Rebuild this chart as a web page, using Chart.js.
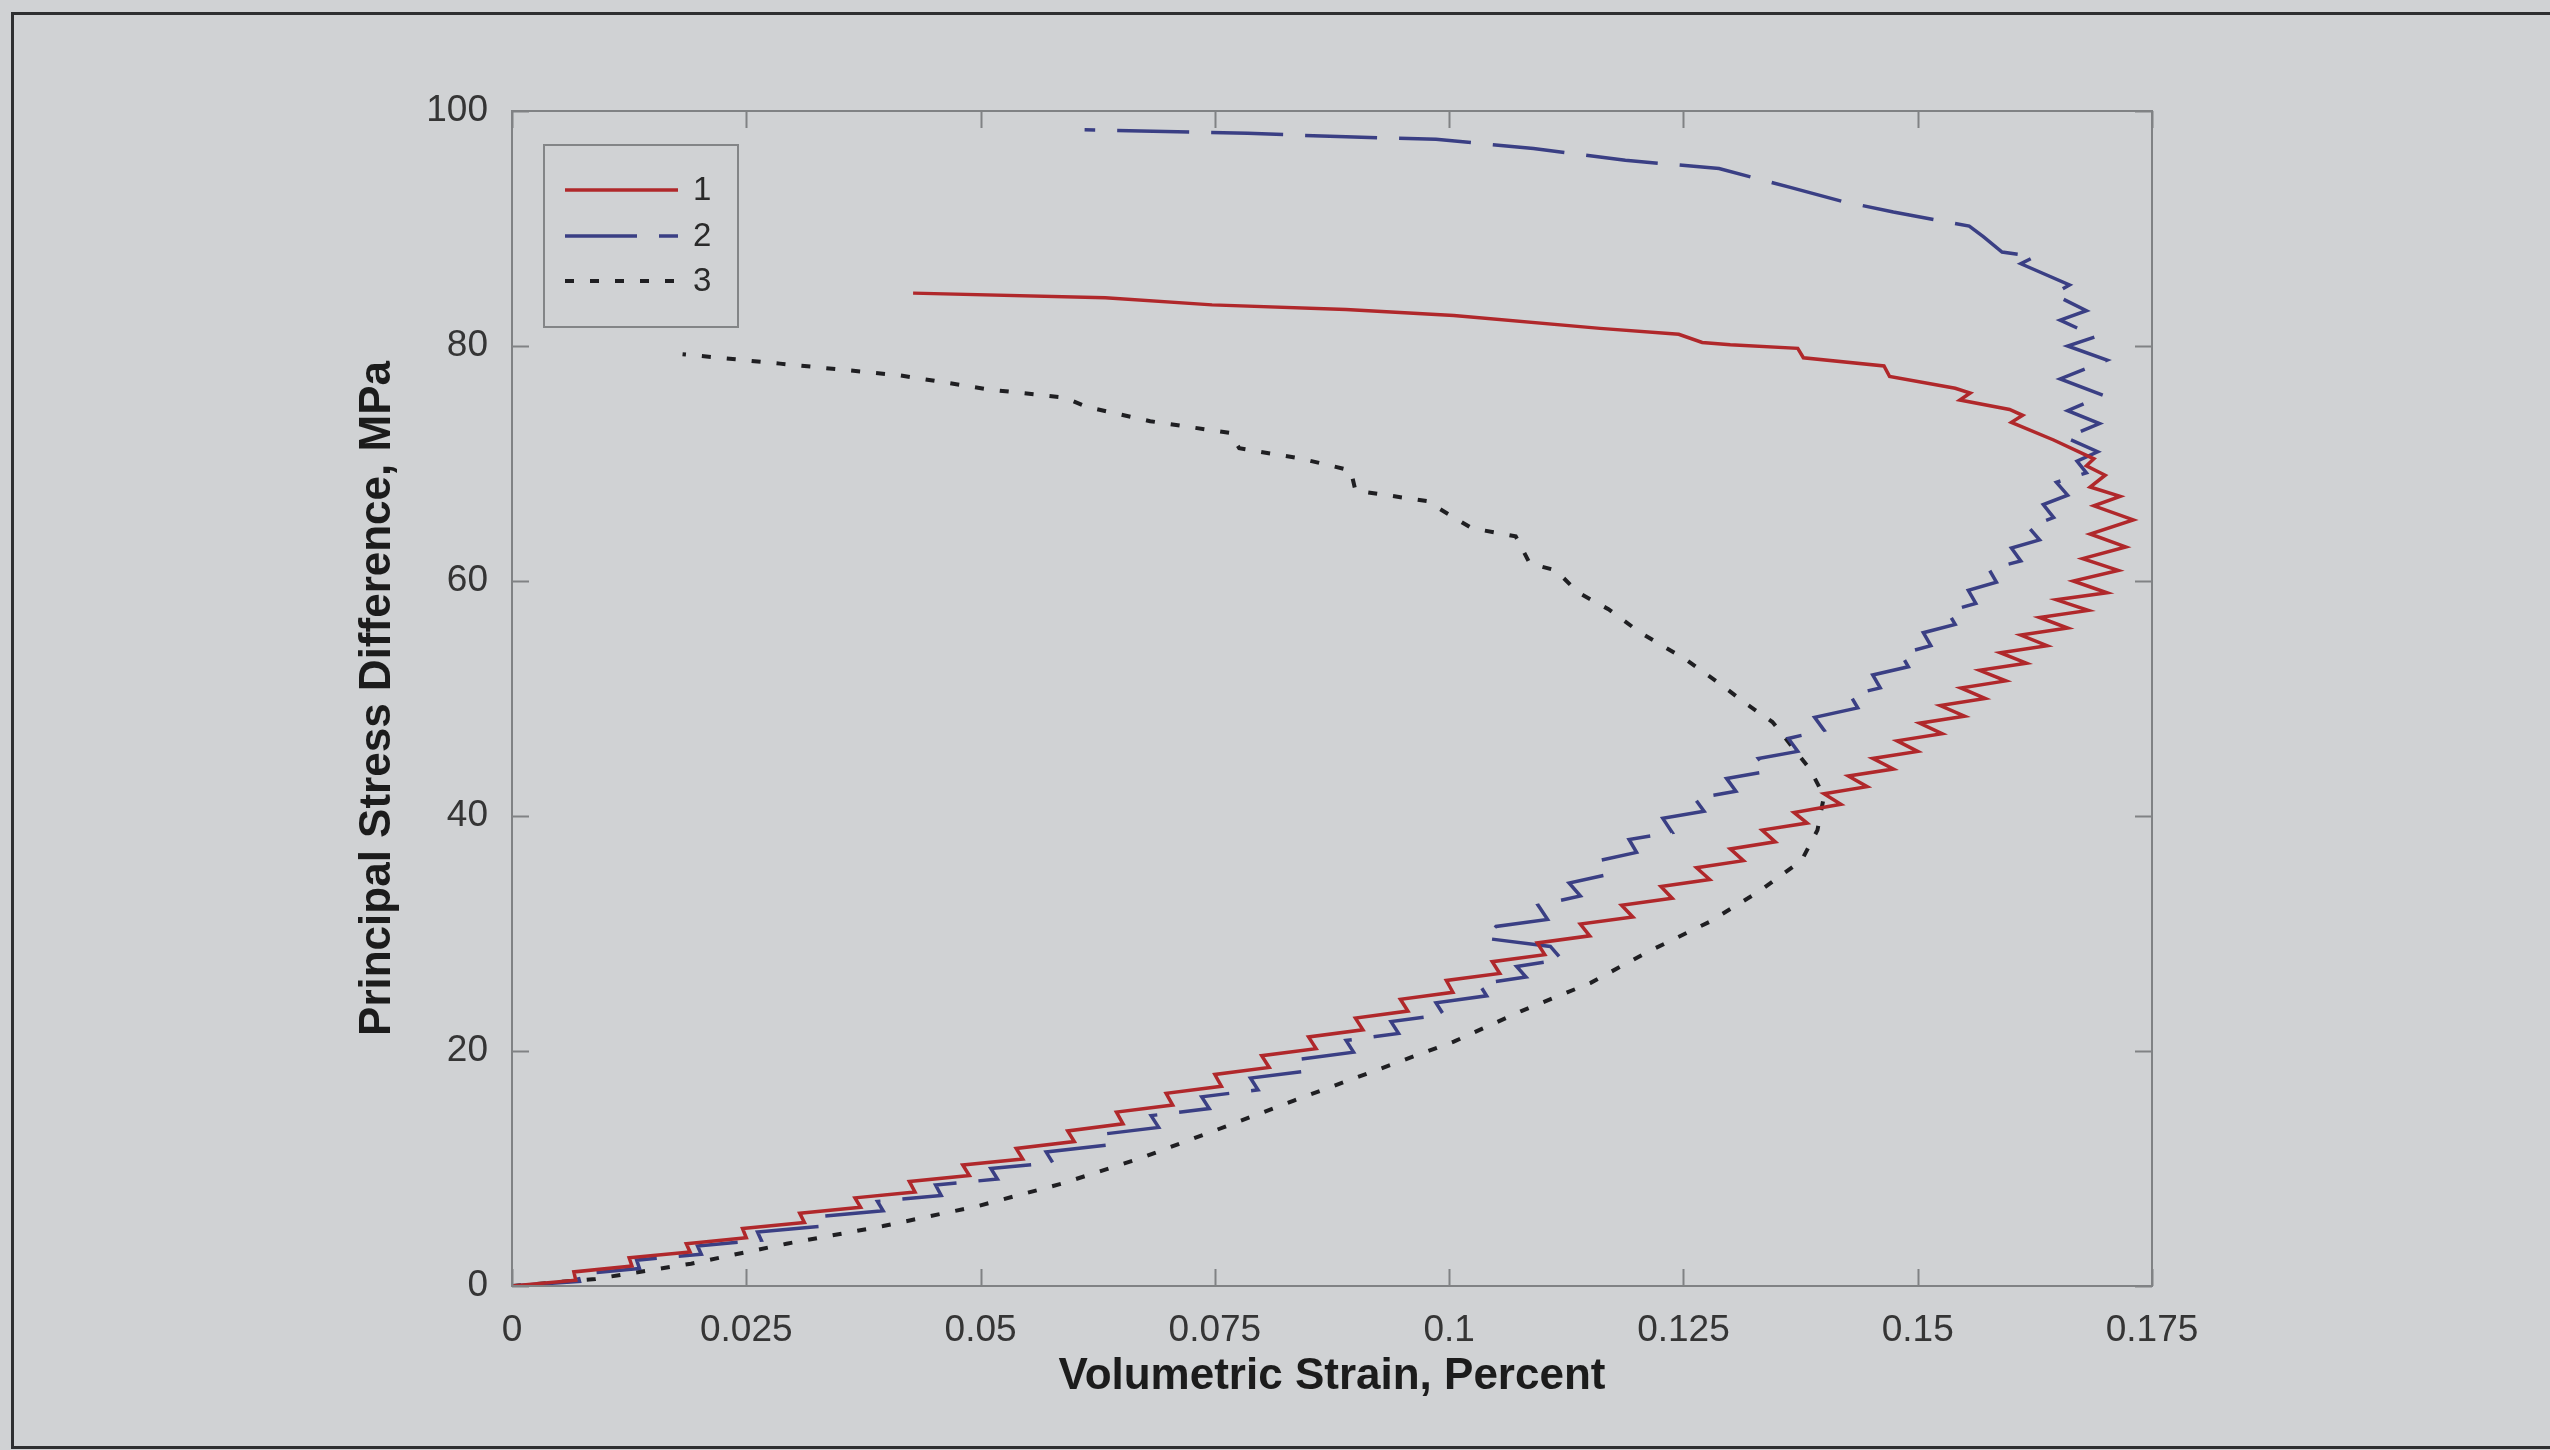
<!DOCTYPE html>
<html>
<head>
<meta charset="utf-8">
<title>Volumetric strain vs principal stress difference</title>
<script src="https://cdn.jsdelivr.net/npm/chart.js@4.4.1/dist/chart.umd.min.js"></script>
<style>
  html, body { margin: 0; padding: 0; background: #d0d2d4; }
  canvas { display: block; }
</style>
</head>
<body>
<canvas id="chart" width="2550" height="1450"></canvas>
<script>
// ---- data -------------------------------------------------------------
const seriesNames = ['1', '2', '3'];

// Test 1 (solid red)
const strain1 = [
  0, 0.0068, 0.0066, 0.0128, 0.0125, 0.0190, 0.0186, 0.0250, 0.0246, 0.0312,
  0.0307, 0.0372, 0.0366, 0.0430, 0.0424, 0.0488, 0.0481, 0.0545, 0.0538, 0.0600,
  0.0593, 0.0652, 0.0645, 0.0705, 0.0698, 0.0757, 0.0750, 0.0808, 0.0800, 0.0858,
  0.0850, 0.0908, 0.0900, 0.0956, 0.0948, 0.1004, 0.0997, 0.1054, 0.1046, 0.1102,
  0.1094, 0.1150, 0.1140, 0.1196, 0.1184, 0.1238, 0.1226, 0.1278, 0.1264, 0.1314,
  0.1300, 0.1348, 0.1334, 0.1382, 0.1368, 0.1418, 0.1400, 0.1446, 0.1426, 0.1474,
  0.1452, 0.1500, 0.1478, 0.1526, 0.1502, 0.1550, 0.1524, 0.1572, 0.1546, 0.1594,
  0.1566, 0.1616, 0.1588, 0.1638, 0.1610, 0.1660, 0.1630, 0.1682, 0.1648, 0.1702,
  0.1666, 0.1714, 0.1676, 0.1722, 0.1684, 0.1730, 0.1688, 0.1716, 0.1684, 0.1700,
  0.1680, 0.1688, 0.1645, 0.1600, 0.1612, 0.1598, 0.1545, 0.1556, 0.1540, 0.1470,
  0.1464, 0.1378, 0.1372, 0.1300, 0.1270, 0.1245, 0.1161, 0.1005, 0.0890, 0.0747,
  0.0633, 0.0428
];
const stress1 = [
  0, 0.5, 1.2, 1.7, 2.4, 2.9, 3.6, 4.1, 4.9, 5.4,
  6.2, 6.7, 7.5, 8.0, 8.9, 9.4, 10.3, 10.8, 11.7, 12.3,
  13.2, 13.8, 14.8, 15.4, 16.4, 17.0, 18.0, 18.6, 19.6, 20.2,
  21.2, 21.8, 22.8, 23.4, 24.4, 25.0, 26.0, 26.6, 27.6, 28.2,
  29.2, 29.8, 30.8, 31.4, 32.4, 33.0, 34.0, 34.6, 35.6, 36.2,
  37.2, 37.8, 38.8, 39.4, 40.3, 41.0, 41.9, 42.5, 43.4, 44.0,
  44.9, 45.5, 46.4, 47.0, 47.9, 48.5, 49.4, 50.0, 50.9, 51.5,
  52.4, 53.0, 53.9, 54.5, 55.4, 56.0, 56.9, 57.5, 58.4, 59.0,
  60.0, 60.9, 61.9, 62.9, 64.0, 65.2, 66.4, 67.2, 68.0, 69.0,
  69.8, 70.4, 72.0, 73.5, 74.1, 74.6, 75.4, 76.0, 76.4, 77.4,
  78.3, 79.0, 79.8, 80.1, 80.3, 81.0, 81.5, 82.6, 83.1, 83.5,
  84.1, 84.5
];

// Test 2 (dashed blue)
const strain2 = [
  0, 0.0072, 0.0070, 0.0136, 0.0133, 0.0202, 0.0198, 0.0266, 0.0262, 0.0332,
  0.0327, 0.0396, 0.0390, 0.0458, 0.0452, 0.0518, 0.0511, 0.0577, 0.0570, 0.0636,
  0.0628, 0.0690, 0.0682, 0.0744, 0.0736, 0.0796, 0.0788, 0.0848, 0.0840, 0.0898,
  0.0890, 0.0946, 0.0938, 0.0994, 0.0986, 0.1040, 0.1032, 0.1082, 0.1072, 0.1120,
  0.1108, 0.1038, 0.1050, 0.1105, 0.1095, 0.1140, 0.1128, 0.1168, 0.1160, 0.1200,
  0.1192, 0.1238, 0.1228, 0.1272, 0.1262, 0.1306, 0.1296, 0.1340, 0.1330, 0.1372,
  0.1362, 0.1400, 0.1390, 0.1436, 0.1428, 0.1460, 0.1452, 0.1490, 0.1482, 0.1514,
  0.1506, 0.1540, 0.1532, 0.1562, 0.1554, 0.1584, 0.1576, 0.1610, 0.1600, 0.1630,
  0.1618, 0.1645, 0.1634, 0.1660, 0.1648, 0.1680, 0.1670, 0.1692, 0.1658, 0.1694,
  0.1660, 0.1698, 0.1652, 0.1702, 0.1660, 0.1690, 0.1652, 0.1680, 0.1645, 0.1662,
  0.1610, 0.1625, 0.1590, 0.1570, 0.1555, 0.1474, 0.1420, 0.1364, 0.1288, 0.1188,
  0.1090, 0.0986, 0.0890, 0.0785, 0.0611
];
const stress2 = [
  0, 0.4, 1.0, 1.5, 2.2, 2.7, 3.4, 3.9, 4.6, 5.1,
  5.9, 6.4, 7.2, 7.7, 8.6, 9.1, 10.0, 10.5, 11.4, 12.0,
  12.9, 13.5, 14.5, 15.1, 16.1, 16.7, 17.7, 18.3, 19.3, 19.9,
  20.9, 21.5, 22.5, 23.1, 24.1, 24.7, 25.7, 26.3, 27.2, 27.8,
  28.9, 29.6, 30.6, 31.2, 32.4, 33.2, 34.3, 35.0, 36.2, 36.9,
  38.0, 38.6, 39.8, 40.4, 41.5, 42.1, 43.2, 43.8, 44.9, 45.5,
  46.6, 47.3, 48.4, 49.2, 50.3, 50.9, 52.0, 52.7, 53.8, 54.5,
  55.6, 56.3, 57.4, 58.1, 59.2, 59.9, 61.0, 61.7, 62.8, 63.5,
  64.6, 65.4, 66.5, 67.3, 68.4, 69.2, 70.2, 71.0, 72.2, 73.4,
  74.5, 75.8, 77.2, 78.8, 80.0, 80.8, 82.2, 83.0, 84.4, 85.2,
  87.0, 87.6, 88.0, 89.3, 90.2, 91.4, 92.3, 93.5, 95.1, 95.8,
  96.8, 97.6, 97.8, 98.1, 98.4
];

// Test 3 (dotted black)
const strain3 = [
  0, 0.0089, 0.0191, 0.0293, 0.0396, 0.0497, 0.0586, 0.0668, 0.0749, 0.0835,
  0.0920, 0.1005, 0.1077, 0.1151, 0.1211, 0.1278, 0.1331, 0.1376, 0.1393, 0.1400,
  0.1385, 0.1365, 0.1345, 0.1316, 0.1290, 0.1253, 0.1204, 0.1170, 0.1138, 0.1114,
  0.1086, 0.1071, 0.1024, 0.0976, 0.0900, 0.0895, 0.0843, 0.0776, 0.0766, 0.0681,
  0.0614, 0.0590, 0.0509, 0.0414, 0.0286, 0.0182
];
const stress3 = [
  0, 0.6, 1.9, 3.6, 5.1, 6.8, 8.7, 10.8, 13.2, 15.8,
  18.3, 20.8, 23.4, 25.8, 28.4, 31.0, 33.6, 36.2, 38.8, 41.7,
  44.0, 46.0, 48.0, 49.6, 51.2, 53.3, 55.6, 57.6, 59.0, 60.9,
  61.5, 63.8, 64.5, 66.8, 67.7, 69.4, 70.4, 71.3, 72.6, 73.6,
  74.8, 75.6, 76.3, 77.5, 78.5, 79.3
];

// axis ticks and titles
const xTickValues = [0, 0.025, 0.05, 0.075, 0.1, 0.125, 0.15, 0.175];
const xTickLabels = ['0', '0.025', '0.05', '0.075', '0.1', '0.125', '0.15', '0.175'];
const yTickValues = [0, 20, 40, 60, 80, 100];
const yTickLabels = ['0', '20', '40', '60', '80', '100'];
const xTitle = 'Volumetric Strain, Percent';
const yTitle = 'Principal Stress Difference, MPa';

// ---- helpers ----------------------------------------------------------
const toPoints = (xs, ys) => xs.map((x, i) => ({ x: x, y: ys[i] }));
const FONT = "'Liberation Sans', Arial, sans-serif";

// page background and the thin dark frame round the figure
const backdrop = {
  id: 'backdrop',
  beforeDraw(chart) {
    const ctx = chart.ctx;
    ctx.save();
    ctx.fillStyle = '#d0d2d4';
    ctx.fillRect(0, 0, chart.width, chart.height);
    ctx.strokeStyle = '#2e2f31';
    ctx.lineWidth = 3;
    ctx.beginPath();
    ctx.moveTo(chart.width, 13.5);
    ctx.lineTo(12.5, 13.5);
    ctx.lineTo(12.5, 1447.5);
    ctx.lineTo(chart.width, 1447.5);
    ctx.stroke();
    ctx.restore();
  }
};

// plot box with inward tick marks on all four sides
const axisBox = {
  id: 'axisBox',
  afterDatasetsDraw(chart) {
    const { ctx, chartArea: a, scales } = chart;
    const len = 17;
    ctx.save();
    ctx.strokeStyle = '#808284';
    ctx.lineWidth = 2;
    ctx.strokeRect(a.left, a.top, a.right - a.left, a.bottom - a.top);
    ctx.beginPath();
    scales.x.ticks.forEach(t => {
      const px = Math.round(scales.x.getPixelForValue(t.value)) + 0.5;
      ctx.moveTo(px, a.bottom); ctx.lineTo(px, a.bottom - len);
      ctx.moveTo(px, a.top); ctx.lineTo(px, a.top + len);
    });
    scales.y.ticks.forEach(t => {
      const py = Math.round(scales.y.getPixelForValue(t.value)) + 0.5;
      ctx.moveTo(a.left, py); ctx.lineTo(a.left + len, py);
      ctx.moveTo(a.right, py); ctx.lineTo(a.right - len, py);
    });
    ctx.stroke();
    ctx.restore();
  }
};

// boxed legend in the upper-left corner of the plot
const boxLegend = {
  id: 'boxLegend',
  afterDraw(chart) {
    const { ctx, chartArea: a } = chart;
    const bx = a.left + 32, by = a.top + 34, bw = 194, bh = 182;
    ctx.save();
    ctx.strokeStyle = '#838587';
    ctx.lineWidth = 2;
    ctx.strokeRect(bx, by, bw, bh);
    const rows = [a.top + 79, a.top + 125, a.top + 170];
    chart.data.datasets.forEach((ds, i) => {
      const y = rows[i];
      ctx.strokeStyle = ds.borderColor;
      ctx.lineWidth = ds.borderWidth;
      ctx.setLineDash(ds.borderDash || []);
      ctx.lineCap = 'butt';
      ctx.beginPath();
      ctx.moveTo(a.left + 53, y);
      ctx.lineTo(a.left + 166, y);
      ctx.stroke();
      ctx.setLineDash([]);
      ctx.fillStyle = '#2a2a2a';
      ctx.font = '33px ' + FONT;
      ctx.textAlign = 'left';
      ctx.textBaseline = 'middle';
      ctx.fillText(ds.label, a.left + 181, y + 1);
    });
    ctx.restore();
  }
};

// ---- chart ------------------------------------------------------------
new Chart(document.getElementById('chart'), {
  type: 'scatter',
  data: {
    datasets: [
      {
        label: seriesNames[0],
        data: toPoints(strain1, stress1),
        showLine: true, borderColor: '#b0282b', borderWidth: 3.5,
        pointRadius: 0, tension: 0, order: 0
      },
      {
        label: seriesNames[1],
        data: toPoints(strain2, stress2),
        showLine: true, borderColor: '#3a3f84', borderWidth: 3.5,
        borderDash: [72, 22], pointRadius: 0, tension: 0, order: 1
      },
      {
        label: seriesNames[2],
        data: toPoints(strain3, stress3),
        showLine: true, borderColor: '#1f1f22', borderWidth: 4,
        borderDash: [9, 16], pointRadius: 0, tension: 0, order: 2
      }
    ]
  },
  options: {
    responsive: false,
    animation: false,
    devicePixelRatio: 1,
    layout: { padding: { left: 0, top: 111, right: 398, bottom: 0 } },
    plugins: { legend: { display: false }, tooltip: { enabled: false } },
    scales: {
      x: {
        type: 'linear', position: 'bottom', min: 0, max: 0.175,
        afterBuildTicks: s => { s.ticks = xTickValues.map(v => ({ value: v })); },
        afterFit: s => { s.height = 164; },
        grid: { display: false, drawTicks: false },
        border: { display: false },
        ticks: {
          padding: 23, color: '#353535', maxRotation: 0, autoSkip: false,
          font: { family: FONT, size: 37 },
          callback: (v, i) => xTickLabels[i]
        },
        title: {
          display: true, text: xTitle, color: '#1c1c1c',
          font: { family: FONT, size: 44, weight: 'bold' },
          padding: { top: 0, bottom: 47 }
        }
      },
      y: {
        type: 'linear', position: 'left', min: 0, max: 100,
        afterBuildTicks: s => { s.ticks = yTickValues.map(v => ({ value: v })); },
        afterFit: s => { s.width = 512; },
        grid: { display: false, drawTicks: false },
        border: { display: false },
        ticks: {
          padding: 24, color: '#353535', autoSkip: false,
          font: { family: FONT, size: 37 },
          callback: (v, i) => yTickLabels[i]
        },
        title: {
          display: true, text: yTitle, color: '#1c1c1c',
          font: { family: FONT, size: 44, weight: 'bold' },
          padding: { top: 351, bottom: 0 }
        }
      }
    }
  },
  plugins: [backdrop, axisBox, boxLegend]
});
</script>
</body>
</html>
